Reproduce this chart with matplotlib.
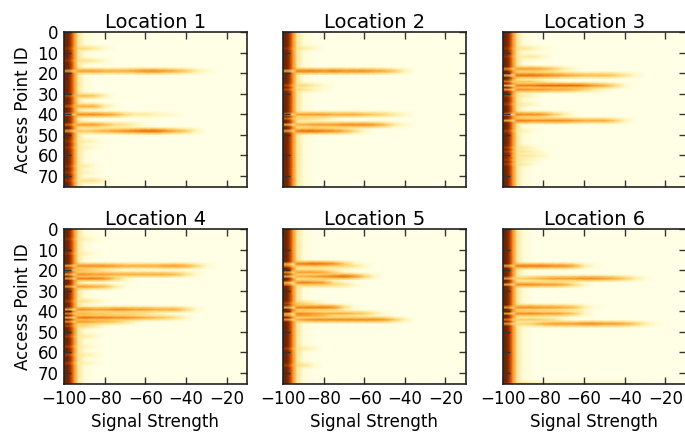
import numpy as np
import matplotlib
matplotlib.use("Agg")
import matplotlib.pyplot as plt

# signal strength nodes (dBm) used for the columns of every panel
col_x = [-100, -98, -97, -96, -95, -93, -90, -85, -80, -75, -70, -65, -60,
         -55, -50, -45, -40, -35, -30, -25, -20, -15, -10]
# level of a "normal" access point row (mostly not seen -> -100)
base_row = [1.0, 0.97, 0.88, 0.72, 0.52, 0.22, 0.05, 0, 0, 0, 0, 0, 0,
            0, 0, 0, 0, 0, 0, 0, 0, 0, 0]
# streak levels start at -93 dBm, 5 dB steps after -90
streak_start = 5
n_ap = 76

# (access point, level at -100, levels from -93 onwards)
loc1 = [(8, 0.9, [0.3, 0.3, 0.2, 0.08]),
        (14, 0.9, [0.25, 0.25, 0.2, 0.08]),
        (19, 0.45, [0.5, 0.5, 0.5, 0.45, 0.45, 0.45, 0.5, 0.55, 0.55, 0.5, 0.45, 0.35, 0.2, 0.08]),
        (31, 0.8, [0.4, 0.4, 0.35, 0.15]),
        (36, 0.75, [0.45, 0.45, 0.45, 0.2, 0.05]),
        (40, 0.55, [0.55, 0.55, 0.55, 0.5, 0.45, 0.3, 0.2, 0.2, 0.15, 0.1, 0.05]),
        (45, 0.7, [0.5, 0.5, 0.5, 0.4, 0.3, 0.25, 0.15, 0.05]),
        (48, 0.45, [0.4, 0.35, 0.4, 0.45, 0.5, 0.55, 0.6, 0.65, 0.65, 0.55, 0.45, 0.35, 0.15]),
        (53, 0.9, [0.2, 0.2, 0.1]),
        (56, 0.9, [0.2, 0.15, 0.05]),
        (65, 0.9, [0.2, 0.2, 0.05]),
        (68, 0.9, [0.2, 0.15, 0.05]),
        (72, 0.9, [0.15, 0.25, 0.25, 0.1])]

loc2 = [(8, 0.9, [0.25, 0.2, 0.1]),
        (19, 0.4, [0.6, 0.6, 0.6, 0.55, 0.6, 0.55, 0.55, 0.55, 0.5, 0.45, 0.35, 0.15]),
        (26, 0.8, [0.3, 0.3, 0.2, 0.08]),
        (28, 0.8, [0.3, 0.25, 0.15, 0.05]),
        (40, 0.45, [0.5, 0.5, 0.5, 0.5, 0.45, 0.45, 0.45, 0.4, 0.35, 0.3, 0.2, 0.1]),
        (42, 0.7, [0.3, 0.3, 0.25, 0.2, 0.1]),
        (45, 0.45, [0.45, 0.45, 0.5, 0.5, 0.5, 0.55, 0.55, 0.55, 0.5, 0.4, 0.2, 0.1]),
        (48, 0.45, [0.6, 0.65, 0.65, 0.6, 0.55, 0.45, 0.3, 0.1])]

loc3 = [(8, 0.9, [0.25, 0.25, 0.15, 0.05]),
        (12, 0.9, [0.2, 0.2, 0.2, 0.1]),
        (18, 0.55, [0.5, 0.5, 0.5, 0.45, 0.35, 0.2, 0.08]),
        (21, 0.4, [0.65, 0.65, 0.65, 0.6, 0.55, 0.5, 0.45, 0.4, 0.4, 0.4, 0.35, 0.25, 0.1]),
        (24, 0.6, [0.35, 0.35, 0.3, 0.2, 0.1]),
        (26, 0.4, [0.6, 0.6, 0.6, 0.65, 0.65, 0.65, 0.65, 0.6, 0.5, 0.45, 0.3, 0.1]),
        (28, 0.5, [0.55, 0.55, 0.5, 0.5, 0.45, 0.45, 0.4, 0.3, 0.2, 0.1]),
        (31, 0.85, [0.25, 0.2, 0.1]),
        (35, 0.85, [0.25, 0.2, 0.1]),
        (40, 0.45, [0.6, 0.55, 0.55, 0.5, 0.35, 0.2, 0.05]),
        (43, 0.45, [0.6, 0.6, 0.55, 0.55, 0.55, 0.55, 0.5, 0.45, 0.45, 0.45, 0.35, 0.15]),
        (48, 0.85, [0.2, 0.15, 0.05]),
        (56, 0.85, [0.25, 0.2, 0.1]),
        (58, 0.85, [0.25, 0.25, 0.15, 0.05]),
        (60, 0.85, [0.25, 0.25, 0.2, 0.1]),
        (62, 0.85, [0.25, 0.2, 0.1]),
        (64, 0.85, [0.25, 0.2, 0.05])]

loc4 = [(5, 0.9, [0.2, 0.15, 0.05]),
        (12, 0.9, [0.2, 0.15, 0.05]),
        (18, 0.45, [0.55, 0.55, 0.55, 0.55, 0.5, 0.45, 0.45, 0.45, 0.45, 0.5, 0.5, 0.45, 0.3, 0.1]),
        (20, 0.6, [0.4, 0.35, 0.3, 0.2, 0.1]),
        (22, 0.45, [0.55, 0.55, 0.5, 0.5, 0.45, 0.45, 0.45, 0.45, 0.45, 0.45, 0.4, 0.25, 0.08]),
        (24, 0.5, [0.6, 0.6, 0.6, 0.55, 0.35, 0.15]),
        (28, 0.55, [0.5, 0.5, 0.45, 0.4, 0.2, 0.05]),
        (35, 0.85, [0.25, 0.25, 0.15, 0.05]),
        (39, 0.45, [0.55, 0.55, 0.5, 0.5, 0.55, 0.55, 0.5, 0.5, 0.45, 0.45, 0.45, 0.3, 0.1]),
        (41, 0.6, [0.4, 0.4, 0.35, 0.35, 0.3, 0.3, 0.3, 0.25, 0.15, 0.05]),
        (43, 0.45, [0.6, 0.65, 0.6, 0.6, 0.55, 0.55, 0.5, 0.45, 0.4, 0.35, 0.25, 0.1]),
        (45, 0.55, [0.5, 0.5, 0.45, 0.4, 0.35, 0.25, 0.1]),
        (47, 0.8, [0.3, 0.3, 0.2, 0.05]),
        (52, 0.85, [0.2, 0.2, 0.1]),
        (57, 0.85, [0.2, 0.15, 0.05]),
        (61, 0.85, [0.2, 0.2, 0.1]),
        (65, 0.85, [0.2, 0.15, 0.05])]

loc5 = [(17, 0.45, [0.6, 0.6, 0.65, 0.6, 0.55, 0.35, 0.15]),
        (18, 0.6, [0.35, 0.35, 0.35, 0.35, 0.3, 0.3, 0.25, 0.1]),
        (21, 0.5, [0.5, 0.5, 0.5, 0.45, 0.3, 0.1]),
        (23, 0.45, [0.45, 0.45, 0.5, 0.55, 0.6, 0.65, 0.55, 0.35, 0.1]),
        (26, 0.45, [0.55, 0.6, 0.55, 0.5, 0.25, 0.05]),
        (27, 0.6, [0.35, 0.35, 0.35, 0.35, 0.3, 0.25, 0.1]),
        (36, 0.8, [0.35, 0.3, 0.2, 0.05]),
        (38, 0.45, [0.6, 0.6, 0.6, 0.6, 0.55, 0.3, 0.05]),
        (41, 0.5, [0.55, 0.55, 0.5, 0.45, 0.45, 0.45, 0.4, 0.35, 0.2, 0.05]),
        (42, 0.55, [0.5, 0.5, 0.45, 0.4, 0.2, 0.05]),
        (44, 0.5, [0.45, 0.5, 0.55, 0.55, 0.55, 0.55, 0.55, 0.55, 0.55, 0.5, 0.35, 0.15]),
        (58, 0.85, [0.25, 0.2, 0.1]),
        (66, 0.85, [0.3, 0.25, 0.1])]

loc6 = [(18, 0.45, [0.6, 0.6, 0.6, 0.6, 0.55, 0.55, 0.45, 0.2, 0.05]),
        (24, 0.5, [0.35, 0.35, 0.4, 0.45, 0.5, 0.5, 0.5, 0.55, 0.55, 0.5, 0.45, 0.35, 0.2, 0.05]),
        (27, 0.45, [0.55, 0.55, 0.55, 0.5, 0.5, 0.45, 0.3, 0.1]),
        (38, 0.5, [0.55, 0.55, 0.55, 0.5, 0.5, 0.45, 0.4, 0.2, 0.05]),
        (41, 0.5, [0.55, 0.55, 0.55, 0.5, 0.5, 0.45, 0.35, 0.15]),
        (44, 0.65, [0.35, 0.35, 0.35, 0.3, 0.25, 0.1]),
        (46, 0.5, [0.3, 0.3, 0.35, 0.45, 0.5, 0.5, 0.5, 0.55, 0.55, 0.5, 0.5, 0.45, 0.35, 0.2, 0.05]),
        (75, 0.9, [0.3, 0.25, 0.2, 0.15, 0.1, 0.1, 0.1, 0.1, 0.1, 0.1, 0.1, 0.1, 0.05])]

locations = ["Location 1", "Location 2", "Location 3",
             "Location 4", "Location 5", "Location 6"]
streaks = [loc1, loc2, loc3, loc4, loc5, loc6]


def build_grid(streak_list):
    base = np.array(base_row, dtype=float)
    edge = np.tile(base, (n_ap, 1))
    strk = np.zeros_like(edge)
    for ap, lvl, vals in streak_list:
        edge[ap, :streak_start] *= lvl
        strk[ap, streak_start:streak_start + len(vals)] = vals
    # soften streaks vertically so they read like the smoothed original
    soft = strk.copy()
    soft[1:] = np.maximum(soft[1:], 0.6 * strk[:-1])
    soft[:-1] = np.maximum(soft[:-1], 0.6 * strk[1:])
    return np.maximum(edge, soft)


plt.rcParams["axes.unicode_minus"] = True
fig = plt.figure(figsize=(6.85, 4.32), dpi=100)
lefts = [0.0934, 0.413, 0.734]
bottoms = [0.567, 0.111]
w, h = 0.267, 0.359
y_nodes = np.linspace(0, 75.5, n_ap)

for i, (name, st) in enumerate(zip(locations, streaks)):
    r, c = divmod(i, 3)
    ax = fig.add_axes([lefts[c], bottoms[r], w, h])
    grid = build_grid(st)
    ax.pcolormesh(col_x, y_nodes, grid, shading="gouraud", cmap="YlOrBr",
                  vmin=0, vmax=1, rasterized=True)
    ax.set_xlim(-100, -10)
    ax.set_ylim(75.5, 0)
    ax.set_xticks([-100, -80, -60, -40, -20])
    ax.set_yticks(range(0, 80, 10))
    ax.tick_params(direction="in", top=True, right=True, length=5,
                   width=1, labelsize=12, color="#333333", pad=4)
    for s in ax.spines.values():
        s.set_color("#222222")
        s.set_linewidth(1.2)
    ax.set_title(name, fontsize=14, pad=3)
    if c == 0:
        ax.set_ylabel("Access Point ID", fontsize=12)
    else:
        ax.set_yticklabels([])
    if r == 1:
        ax.set_xlabel("Signal Strength", fontsize=12)
    else:
        ax.set_xticklabels([])

fig.savefig("out.png", dpi=100)
